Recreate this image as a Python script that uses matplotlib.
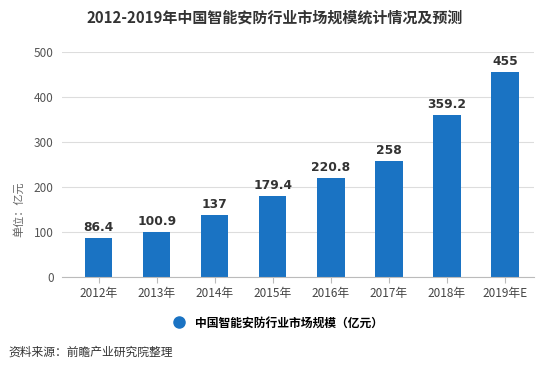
import matplotlib
matplotlib.use("Agg")
import matplotlib.pyplot as plt
from matplotlib.lines import Line2D

plt.rcParams['font.family'] = ['Noto Sans CJK SC', 'DejaVu Sans']

categories = ["2012年", "2013年", "2014年", "2015年", "2016年", "2017年", "2018年", "2019年E"]
values = [86.4, 100.9, 137, 179.4, 220.8, 258, 359.2, 455]
labels = ["86.4", "100.9", "137", "179.4", "220.8", "258", "359.2", "455"]
yticks = [0, 100, 200, 300, 400, 500]

bar_color = "#1a73c3"

fig = plt.figure(figsize=(5.5, 3.74), dpi=100)
ax = fig.add_axes([0.113, 0.259, 0.858, 0.602])

x = list(range(len(categories)))
ax.bar(x, values, width=0.47, color=bar_color, zorder=3)
for xi, v, lab in zip(x, values, labels):
    ax.text(xi, v + 9, lab, ha="center", va="bottom", fontsize=8.8,
            fontweight="bold", color="#333333", family=["DejaVu Sans"])

ax.set_ylim(0, 500)
ax.set_xlim(-0.63, 7.5)
ax.set_yticks(yticks)
ax.set_xticks(x)
ax.set_xticklabels(categories)
ax.tick_params(axis="y", length=0, labelsize=8.5, labelcolor="#555555", pad=6)
ax.tick_params(axis="x", length=4, color="#bbbbbb", labelsize=8.5, labelcolor="#444444", pad=3)
ax.grid(axis="y", color="#dddddd", linewidth=0.8, zorder=0)
for s in ["top", "right", "left"]:
    ax.spines[s].set_visible(False)
ax.spines["bottom"].set_color("#bbbbbb")
ax.spines["bottom"].set_zorder(4)

fig.text(0.034, 0.44, "单位：亿元", rotation=90, ha="center", va="center",
         fontsize=8, color="#666666")

fig.text(0.5, 0.952, "2012-2019年中国智能安防行业市场规模统计情况及预测", ha="center",
         va="center", fontsize=10.8, fontweight="bold", color="#333333")

handle = Line2D([], [], marker="o", linestyle="none", markersize=8,
                markerfacecolor=bar_color, markeredgecolor=bar_color)
fig.legend([handle], ["中国智能安防行业市场规模（亿元）"], loc="center",
           bbox_to_anchor=(0.5, 0.137), frameon=False,
           handletextpad=0.3, prop={"weight": "bold", "size": 8.5})

fig.text(0.015, 0.058, "资料来源：前瞻产业研究院整理", ha="left", va="center",
         fontsize=8.5, color="#333333")

fig.savefig("out.png", dpi=100, facecolor="white")
